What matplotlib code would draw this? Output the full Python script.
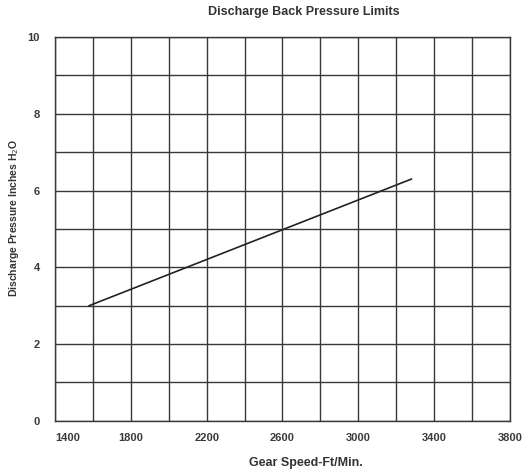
import matplotlib.pyplot as plt
import numpy as np

# Limit line
speed = [1580, 3280]
pressure = [3.0, 6.3]

x_ticks = [1400, 1800, 2200, 2600, 3000, 3400, 3800]
y_ticks = [0, 2, 4, 6, 8, 10]

plt.rcParams['font.family'] = ['Liberation Sans', 'DejaVu Sans']

fig = plt.figure(figsize=(5.29, 4.76), dpi=100)
ax = fig.add_axes([0.104, 0.116, 0.86, 0.806])

ax.set_xlim(1400, 3800)
ax.set_ylim(0, 10)

# grid every 200 ft/min and every 1 inch
ax.set_xticks(np.arange(1400, 3801, 200), minor=True)
ax.set_yticks(np.arange(0, 11, 1), minor=True)
ax.set_xticks(x_ticks)
ax.set_yticks(y_ticks)
ax.grid(which='both', color='#383838', linewidth=1.0)
ax.set_axisbelow(True)
ax.tick_params(which='both', length=0)
ax.tick_params(axis='x', pad=9, labelsize=8, labelcolor='#3a3a3a')
ax.tick_params(axis='y', pad=11, labelsize=8, labelcolor='#3a3a3a')
for lab in ax.get_xticklabels() + ax.get_yticklabels():
    lab.set_fontweight('bold')
ax.get_xticklabels()[0].set_ha('left')

for s in ax.spines.values():
    s.set_color('#383838')
    s.set_linewidth(1.0)

ax.plot(speed, pressure, color='#222222', linewidth=1.2)

fig.text(304 / 529, 0.975, 'Discharge Back Pressure Limits', fontsize=9,
         fontweight='bold', color='#333333', ha='center', va='center')
fig.text(306 / 529, 1 - 463 / 476, 'Gear Speed-Ft/Min.', fontsize=9,
         fontweight='bold', color='#333333', ha='center', va='center')
fig.text(14 / 529, 1 - 218 / 476, 'Discharge Pressure Inches H$_2$O', fontsize=7.5,
         fontweight='bold', color='#333333', ha='center', va='center',
         rotation=90)

fig.savefig('out.png', dpi=100)
